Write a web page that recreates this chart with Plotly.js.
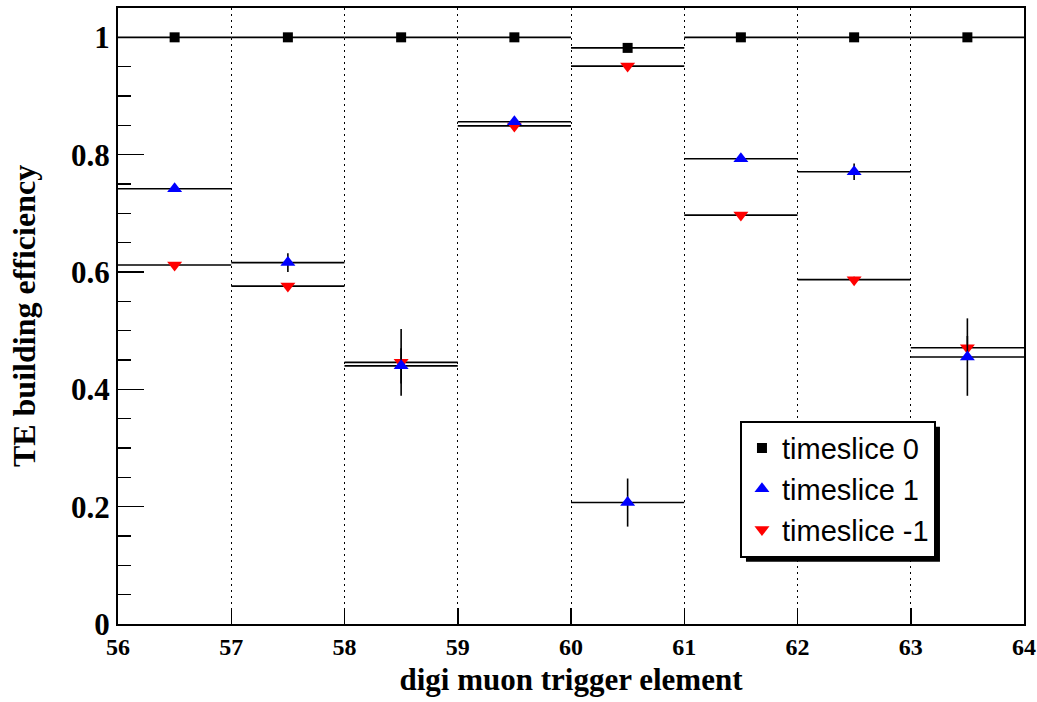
<!DOCTYPE html>
<html>
<head>
<meta charset="utf-8">
<script src="https://cdn.plot.ly/plotly-3.0.1.min.js"></script>
<style>html,body{margin:0;padding:0;background:#fff;}#chart{width:1037px;height:702px;}</style>
</head>
<body>
<div id="chart"></div>
<script>
// ---- data ----
var binCenters = [56.5, 57.5, 58.5, 59.5, 60.5, 61.5, 62.5, 63.5];
var binHalfWidth = 0.5;
var ts0 = [1.0, 1.0, 1.0, 1.0, 0.982, 1.0, 1.0, 1.0];
var ts0Err = [0, 0, 0, 0, 0, 0, 0, 0];
var ts1 = [0.742, 0.616, 0.440, 0.856, 0.207, 0.793, 0.771, 0.455];
var ts1Err = [0.005, 0.016, 0.030, 0.005, 0.041, 0.005, 0.014, 0.066];
var tsm1 = [0.612, 0.576, 0.446, 0.849, 0.951, 0.697, 0.587, 0.471];
var tsm1Err = [0.005, 0.005, 0.057, 0.005, 0.005, 0.005, 0.005, 0.020];
var seriesNames = ['timeslice 0', 'timeslice 1', 'timeslice -1'];
var xTicks = [56, 57, 58, 59, 60, 61, 62, 63, 64];

function errX() { return {type: 'constant', value: binHalfWidth, width: 0, color: '#000', thickness: 1.6}; }
function errY(arr) { return {type: 'data', array: arr, visible: true, width: 0, color: '#000', thickness: 1.6}; }

var traces = [
  {x: binCenters, y: ts0, name: seriesNames[0], type: 'scatter', mode: 'markers', legendrank: 1,
   marker: {symbol: 'square', size: 10, color: '#000'}, error_x: errX(), error_y: errY(ts0Err)},
  {x: binCenters, y: tsm1, name: seriesNames[2], type: 'scatter', mode: 'markers', legendrank: 3,
   marker: {symbol: 'triangle-down', size: 13, color: '#ff0000'}, error_x: errX(), error_y: errY(tsm1Err)},
  {x: binCenters, y: ts1, name: seriesNames[1], type: 'scatter', mode: 'markers', legendrank: 2,
   marker: {symbol: 'triangle-up', size: 13, color: '#0000ff'}, error_x: errX(), error_y: errY(ts1Err)}
];

var serifBold = {family: 'Liberation Serif, Times New Roman, serif', color: '#000', weight: 'bold'};

var layout = {
  width: 1037, height: 702,
  margin: {l: 118, r: 13, t: 8, b: 78, pad: 0},
  paper_bgcolor: '#fff', plot_bgcolor: '#fff',
  showlegend: true,
  xaxis: {
    range: [56, 64], tickvals: xTicks, ticktext: xTicks.map(String),
    ticks: 'inside', ticklen: 16, tickwidth: 1.5, tickcolor: '#000',
    showline: true, linecolor: '#000', linewidth: 2, mirror: true,
    showgrid: true, gridcolor: '#000', gridwidth: 1, griddash: '2px,4px',
    zeroline: false,
    tickfont: Object.assign({size: 24}, serifBold),
    title: {text: 'digi muon trigger element', font: Object.assign({size: 31}, serifBold), standoff: 10}
  },
  yaxis: {
    range: [0, 1.05], dtick: 0.2, tick0: 0,
    ticks: 'inside', ticklen: 26, tickwidth: 1.5, tickcolor: '#000',
    minor: {dtick: 0.05, ticks: 'inside', ticklen: 13, tickwidth: 1.5, tickcolor: '#000', showgrid: false},
    showline: true, linecolor: '#000', linewidth: 2, mirror: true,
    showgrid: false, zeroline: false,
    tickfont: Object.assign({size: 31}, serifBold),
    title: {text: 'TE building efficiency', font: Object.assign({size: 32}, serifBold), standoff: 26}
  },
  legend: {
    x: 0.6865, y: 0.33, xanchor: 'left', yanchor: 'top',
    bgcolor: '#fff', bordercolor: '#000', borderwidth: 2,
    font: {family: 'Liberation Sans, Arial, sans-serif', size: 29, color: '#000'},
    traceorder: 'normal'
  }
};

var gd = document.getElementById('chart');
Plotly.newPlot(gd, traces, layout, {displayModeBar: false, staticPlot: true}).then(function () {
  // drop shadow behind the legend box (ROOT style), placed from the legend's drawn box
  var bg = gd.querySelector('.legend .bg');
  if (!bg) return;
  var r = bg.getBoundingClientRect();
  var c = gd.getBoundingClientRect();
  var s = gd._fullLayout._size;
  var off = 5;
  var px0 = r.left - c.left + off, px1 = r.right - c.left + off;
  var py0 = r.top - c.top + off, py1 = r.bottom - c.top + off;
  var shadow = {
    type: 'rect', xref: 'paper', yref: 'paper', layer: 'above',
    x0: (px0 - s.l) / s.w, x1: (px1 - s.l) / s.w,
    y0: 1 - (py1 - s.t) / s.h, y1: 1 - (py0 - s.t) / s.h,
    fillcolor: '#000', line: {width: 0}
  };
  return Plotly.relayout(gd, {shapes: [shadow]});
});
</script>
</body>
</html>
